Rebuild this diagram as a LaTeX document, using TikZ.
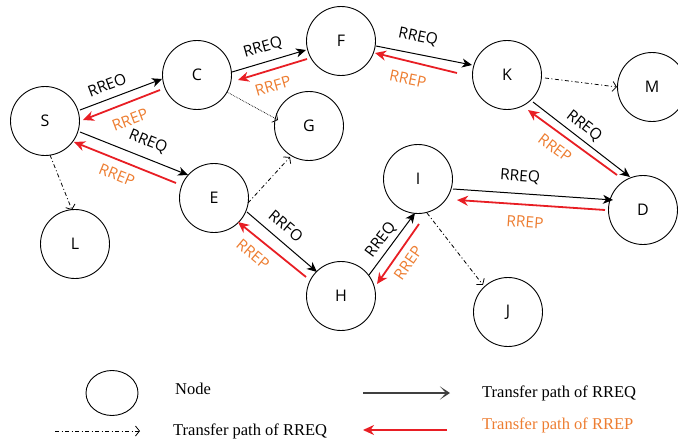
\documentclass[tikz,border=0pt]{standalone}
\usepackage{fontspec}
\setmainfont{Liberation Serif}
\newfontfamily\lblfont{Open Sans}
\usetikzlibrary{arrows.meta,calc,shapes.geometric}
\definecolor{rrepred}{RGB}{232,30,36}
\definecolor{rreporange}{RGB}{237,125,49}
\tikzset{
  nd/.style={circle,draw,line width=0.9pt,minimum size=69pt,inner sep=0pt,font=\lblfont\fontsize{16}{18}\selectfont},
  reqarrow/.style={line width=1pt,-{Stealth[length=10pt,width=9pt,inset=3pt]}},
  reparrow/.style={rrepred,line width=1.8pt,-{Stealth[length=11pt,width=10pt,inset=3.5pt]}},
  bcast/.style={line width=0.8pt,dash pattern=on 4pt off 2.5pt on 1pt off 2.5pt,-{Straight Barb[length=4pt,width=10pt]}},
  dotline/.style={line width=0.7pt,densely dotted,-{Straight Barb[length=4pt,width=10pt]}},
  reqlbl/.style={font=\lblfont\fontsize{15.5}{17}\selectfont,inner sep=0pt},
  replbl/.style={font=\lblfont\fontsize{15.5}{17}\selectfont,inner sep=0pt,text=rreporange},
  legtxt/.style={font=\fontsize{16.5}{18}\selectfont,anchor=west,inner sep=0pt}
}
\begin{document}
\begin{tikzpicture}[x=1pt,y=-1pt]
\useasboundingbox (0,0) rectangle (678,439);
\clip (0,0) rectangle (678,439);
% nodes
\node[nd] (S) at (45,121) {S};
\node[nd] (C) at (197,75) {C};
\node[nd] (F) at (341,41) {F};
\node[nd] (K) at (507,75) {K};
\node[nd] (M) at (652,87) {M};
\node[nd] (G) at (309,126) {G};
\node[nd] (E) at (214,198) {E};
\node[nd] (I) at (418,179) {I};
\node[nd] (D) at (643,210) {D};
\node[nd] (L) at (75,244) {L};
\node[nd] (H) at (341,296) {H};
\node[nd] (J) at (508,312) {J};
% S - C
\draw[reqarrow] ($(S)+(35,-11)$) -- ($(C)+(-35,4)$);
\draw[reparrow] ($(C)+(-37,15)$) -- ($(S)+(38,-1)$);
\node[reqlbl,rotate=20.7] (l1) at (107,85) {RREO};
\node[replbl,rotate=20.7] (l2) at (130,120) {RREP};
% S - E
\draw[reqarrow] ($(S)+(35,11)$) -- ($(E)+(-26,-23)$);
\draw[reparrow] ($(E)+(-38,-15)$) -- ($(S)+(29,21)$);
\node[reqlbl,rotate=-22] (l3) at (148,142) {RREQ};
\node[replbl,rotate=-22] (l4) at (117,175) {RREP};
% C - F
\draw[reqarrow] ($(C)+(35,-3)$) -- ($(F)+(-35,9)$);
\draw[reparrow] ($(F)+(-34,18)$) -- ($(C)+(41,5)$);
\node[reqlbl,rotate=16] (l5) at (263,48) {RREQ};
\node[replbl,rotate=16] (l6) at (273,86) {RRFP};
% F - K
\draw[reqarrow] ($(F)+(35,5)$) -- ($(K)+(-35,-10)$);
\draw[reparrow] ($(K)+(-50,-2)$) -- ($(F)+(34,12)$);
\node[reqlbl,rotate=-11.5] (l7) at (418,37) {RREQ};
\node[replbl,rotate=-11.5] (l8) at (408,79) {RREP};
% K - D
\draw[reqarrow] ($(K)+(26,27)$) -- ($(D)+(-13,-33)$);
\draw[reparrow] ($(D)+(-26,-35)$) -- ($(K)+(21,35)$);
\node[reqlbl,rotate=-38] (l9) at (584,126) {RREQ};
\node[replbl,rotate=-37] (l10) at (555,148) {RREP};
% I - D
\draw[reqarrow] ($(I)+(35,10)$) -- ($(D)+(-30,-10)$);
\draw[reparrow] ($(D)+(-38,0)$) -- ($(I)+(39,21)$);
\node[reqlbl,rotate=-4] (l11) at (520,177) {RREQ};
\node[replbl,rotate=-4] (l12) at (525,222) {RREP};
% E - H
\draw[reqarrow] ($(E)+(33,14)$) -- ($(H)+(-24,-24)$);
\draw[reparrow] ($(H)+(-35,-19)$) -- ($(E)+(24,24)$);
\node[reqlbl,rotate=-40] (l13) at (286,226) {RRFO};
\node[replbl,rotate=-40] (l14) at (253,254) {RREP};
% H - I
\draw[reqarrow] ($(H)+(28,-21)$) -- ($(I)+(-3,34)$);
\draw[reparrow] ($(I)+(1,45)$) -- ($(H)+(36,-12)$);
\node[reqlbl,rotate=53] (l15) at (381,240) {RREQ};
\node[replbl,rotate=55] (l16) at (408,263) {RREP};
% broadcast (dash-dot) paths
\draw[bcast] ($(S)+(5,34)$) -- ($(L)+(-3,-34)$);
\draw[bcast] ($(E)+(34,5)$) -- ($(G)+(-19,31)$);
\draw[bcast] ($(K)+(38,3)$) -- ($(M)+(-35,0)$);
\draw[bcast] ($(I)+(9,34)$) -- ($(J)+(-25,-27)$);
\draw[dotline] ($(C)+(30,17)$) -- ($(G)+(-31,-6)$);
% legend
\node[ellipse,draw,line width=0.9pt,minimum width=52pt,minimum height=45pt,inner sep=0pt] (legnode) at (112,393) {};
\node[legtxt] (legnodetxt) at (175,389) {Node};
\coordinate (lreqa) at (363,393);
\coordinate (lreqb) at (450,393);
\draw[line width=1.3pt,draw=black!75,-{Stealth[length=10pt,width=13pt,inset=6pt,fill=black]}] (lreqa) -- (lreqb);
\node[legtxt] (lreqtxt) at (482,393) {Transfer path of RREQ};
\coordinate (lbca) at (55,431);
\coordinate (lbcb) at (140,431);
\draw[bcast] (lbca) -- (lbcb);
\node[legtxt] (lbctxt) at (173,431) {Transfer path of RREQ};
\coordinate (lrepa) at (447,430);
\coordinate (lrepb) at (363,430);
\draw[reparrow] (lrepa) -- (lrepb);
\node[legtxt,text=rreporange] (lreptxt) at (482,425) {Transfer path of RREP};
\end{tikzpicture}
\end{document}
